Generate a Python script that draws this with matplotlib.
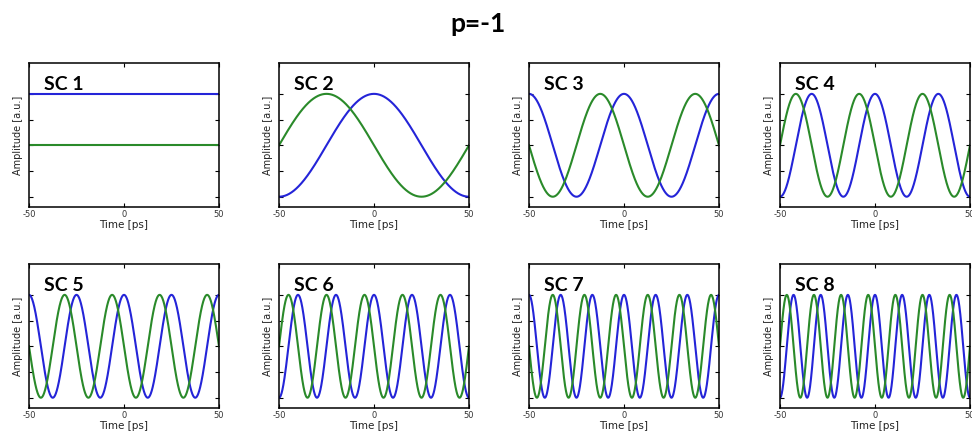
import numpy as np
import matplotlib
matplotlib.use("Agg")
import matplotlib.pyplot as plt

# subcarrier panels
sc_labels = ["SC 1", "SC 2", "SC 3", "SC 4", "SC 5", "SC 6", "SC 7", "SC 8"]
# number of full cycles inside the 100 ps window
sc_cycles = [0, 1, 2, 3, 4, 5, 6, 7]
window_ps = 100.0
# blue peaks at t=0 (cosine), green leads by a quarter period (-sine)
blue_amp = 1.0
green_amp = 1.0

x_ticks = [-50, 0, 50]
y_ticks = [-1, -0.5, 0, 0.5, 1]

blue = "#2424d8"
green = "#2a8a2a"

fig = plt.figure(figsize=(9.72, 4.4), dpi=100)
W, H = 972.0, 440.0

col_left = [29, 279, 529, 780]
row_top = [63, 264]
ax_w, ax_h = 190, 144

t = np.linspace(-50, 50, 1001)

for i, label in enumerate(sc_labels):
	r, c = divmod(i, 4)
	left = col_left[c] / W
	bottom = 1 - (row_top[r] + ax_h) / H
	ax = fig.add_axes([left, bottom, ax_w / W, ax_h / H])
	k = sc_cycles[i]
	phase = 2 * np.pi * k * t / window_ps
	ax.plot(t, blue_amp * np.cos(phase), color=blue, lw=1.5)
	ax.plot(t, -green_amp * np.sin(phase), color=green, lw=1.5)
	ax.set_xlim(-50, 50)
	ax.set_ylim(-1.2, 1.6)
	ax.set_xticks(x_ticks)
	ax.set_xticklabels([str(v) for v in x_ticks], fontsize=6, color="#333333")
	ax.set_yticks(y_ticks)
	ax.set_yticklabels([])
	ax.tick_params(direction="in", length=3, width=0.8, top=True, right=True, pad=2)
	for sp in ax.spines.values():
		sp.set_linewidth(1.1)
	ax.set_xlabel("Time [ps]", fontsize=7.5, labelpad=1, color="#222222")
	ax.set_ylabel("Amplitude [a.u.]", fontsize=7, labelpad=2, color="#222222")
	ax.text(0.079, 0.85, label, transform=ax.transAxes, fontsize=14,
		fontweight="bold", family=["Lato", "DejaVu Sans"], va="center", ha="left")

fig.text(478 / W, 1 - 24 / H, "p=-1", fontsize=19, fontweight="bold",
	family=["Lato", "DejaVu Sans"], ha="center", va="center")

fig.savefig("out.png", dpi=100)
